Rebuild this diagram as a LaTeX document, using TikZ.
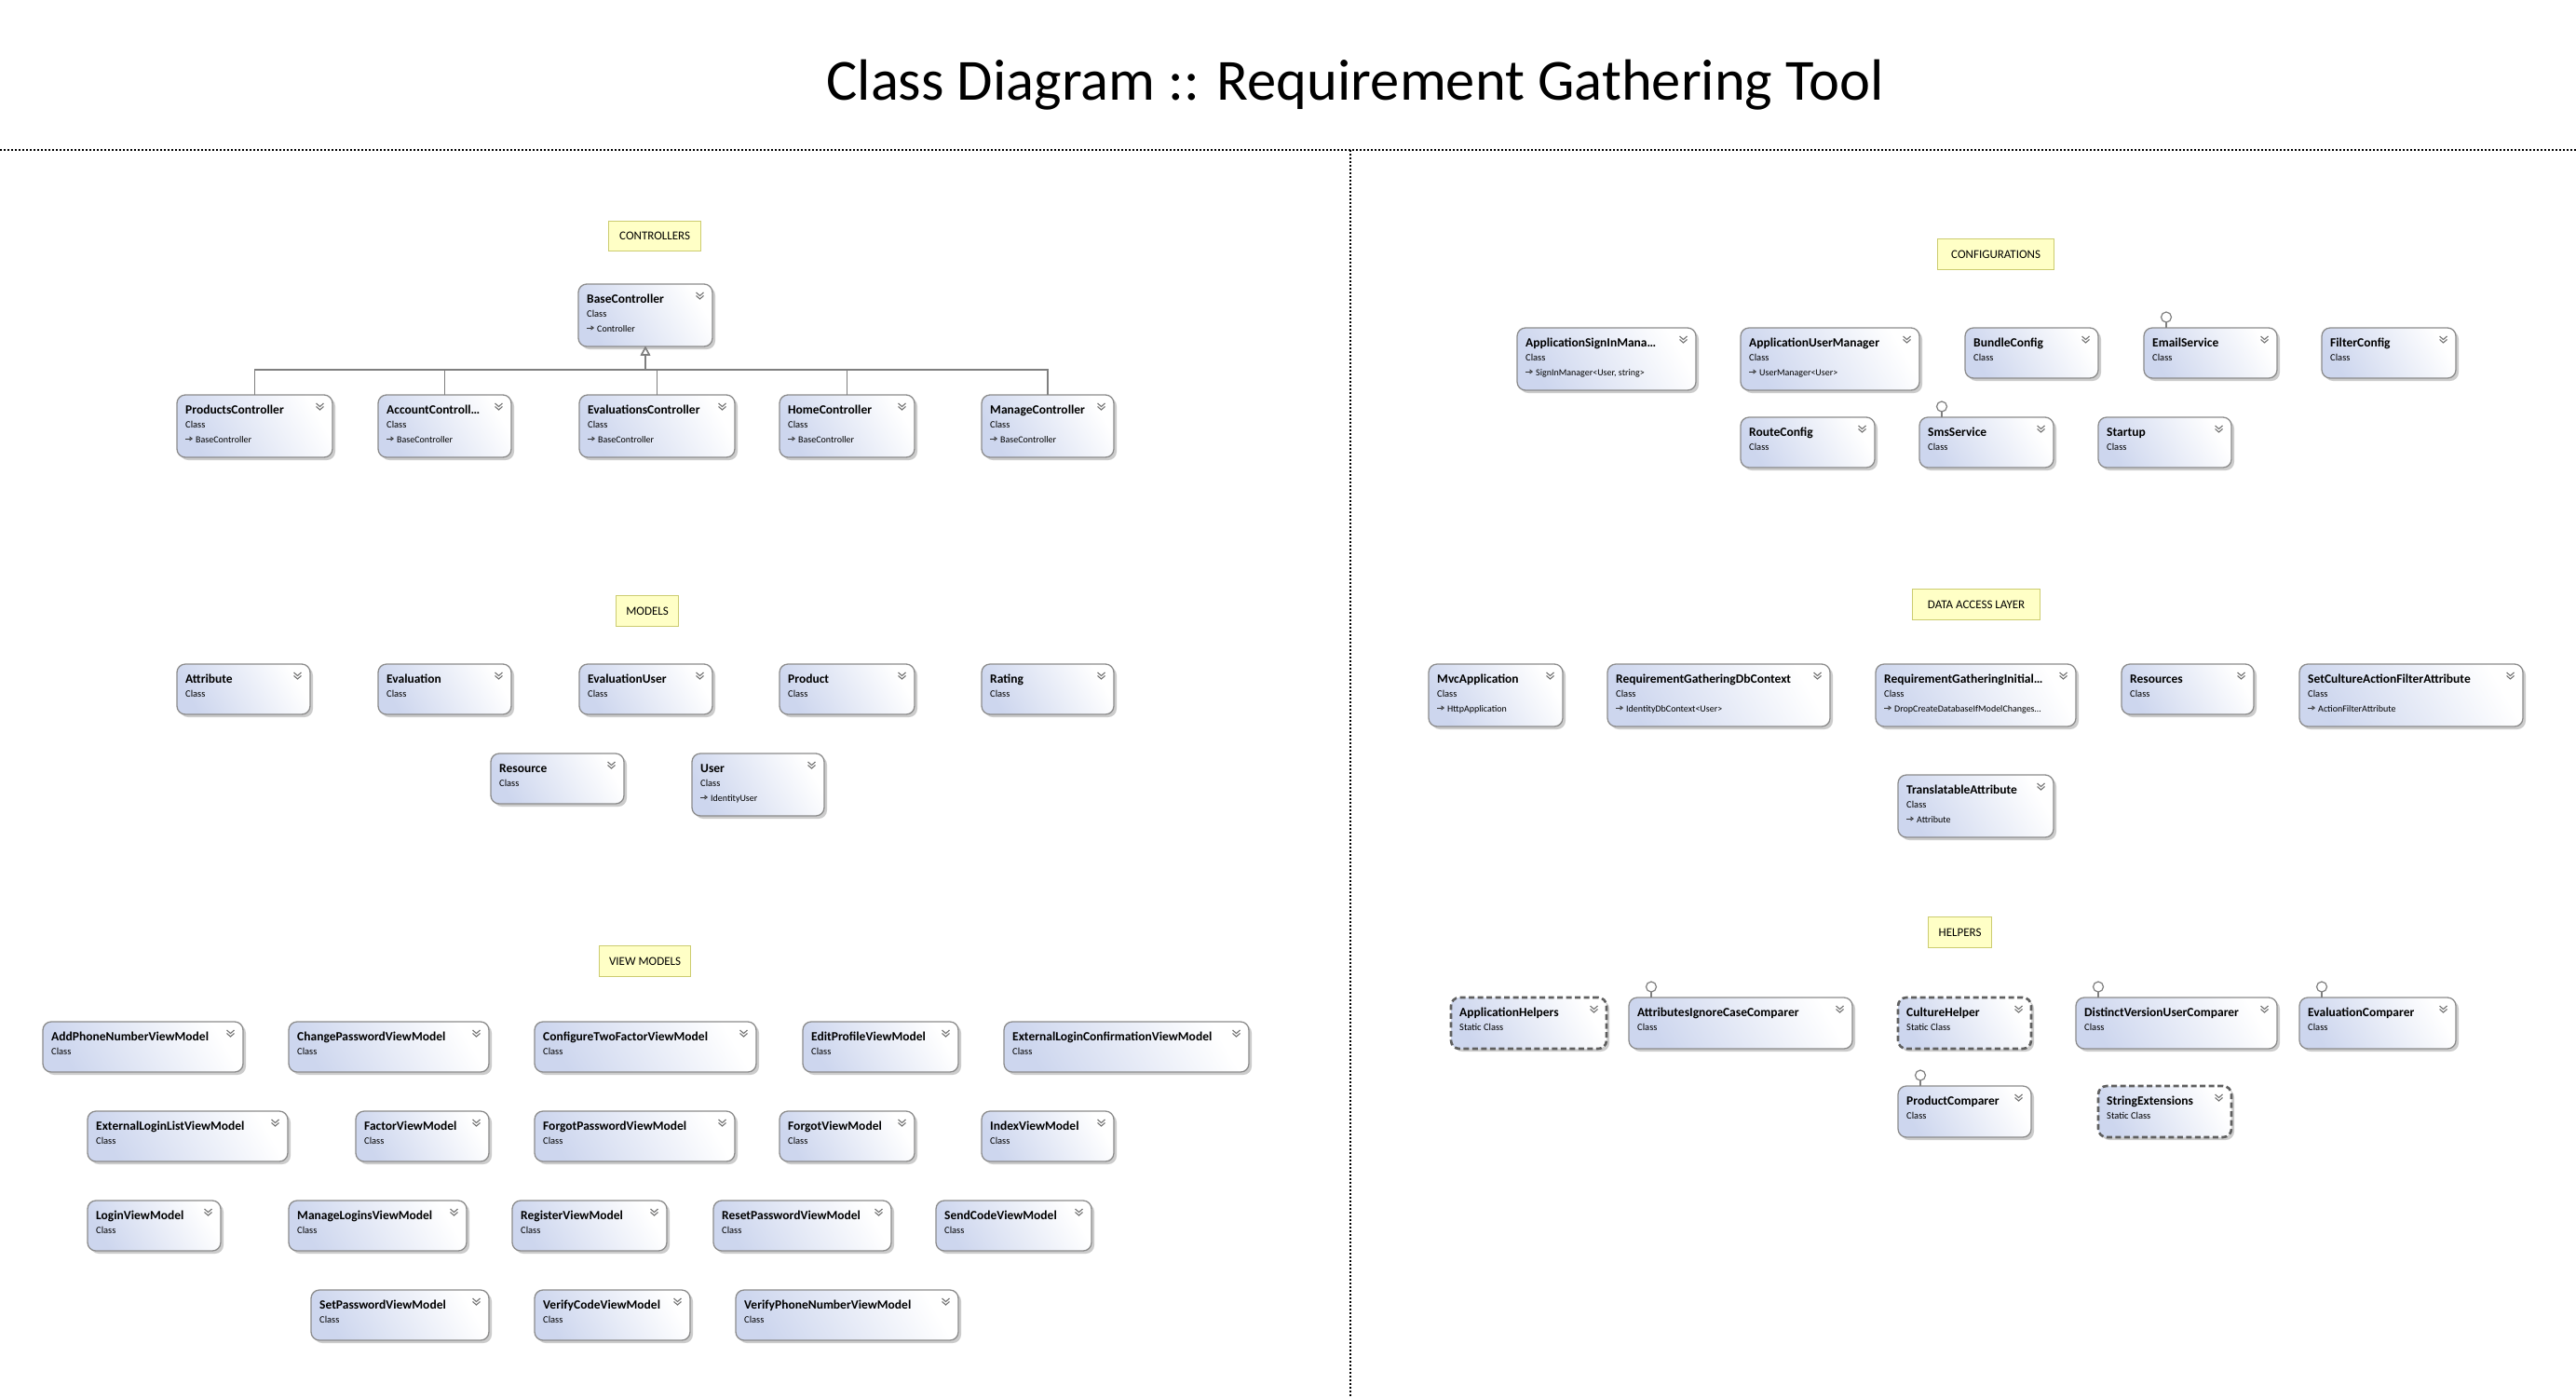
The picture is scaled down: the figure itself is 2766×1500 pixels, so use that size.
\documentclass[tikz,border=0pt]{standalone}
\usepackage{fontspec}
\setmainfont{Carlito}
\usetikzlibrary{arrows.meta,shadows,calc}
\definecolor{boxblue}{HTML}{CDD6EE}
\definecolor{boxline}{HTML}{8C8C8C}
\definecolor{notefill}{HTML}{FFFFC6}
\definecolor{noteline}{HTML}{CCCC70}
\definecolor{conn}{HTML}{7F7F7F}
\definecolor{dashline}{HTML}{5F5F5F}
\tikzset{
 cls/.style={draw=boxline, line width=1.3pt, rounded corners=9pt, left color=boxblue, right color=white, shading angle=120, general shadow={fill=black!20, shadow xshift=3pt, shadow yshift=-3pt}, inner sep=0pt, outer sep=0pt},
 stat/.style={cls, draw=dashline, line width=2.6pt, dash pattern=on 6pt off 3.5pt},
 ttl/.style={font=\bfseries\fontsize{13.5}{15}\selectfont, inner sep=0pt},
 sub/.style={font=\fontsize{10.5}{12}\selectfont, inner sep=0pt},
 notebx/.style={draw=noteline, fill=notefill, line width=1.2pt, font=\fontsize{13}{15}\selectfont, inner sep=0pt, anchor=north west},
 inh/.style={draw=conn, line width=1.4pt, -{Triangle[open, length=9.5pt, width=10pt, fill=white]}},
 chev/.style={draw=black!55, line width=1.1pt},
 barrow/.style={draw=black!80, line width=0.8pt, -{Triangle[open, length=3.5pt, width=5pt]}},
 lolli/.style={draw=conn, line width=1.2pt},
 sepline/.style={draw=black, line width=2pt, dash pattern=on 2pt off 2pt},
}
\newcommand\clsbox[9][cls]{%
 \node[#1, anchor=north west, minimum width={#5pt-#3pt}, minimum height={#6pt-#4pt}] (#2) at (#3,#4) {};
 \node[ttl, anchor=base west] at ([xshift=9pt, yshift=-20pt]#2.north west) {#7};
 \node[sub, anchor=base west] at ([xshift=9pt, yshift=-35pt]#2.north west) {#8};
 \draw[chev] ([xshift=-17.5pt, yshift=-9pt]#2.north east) -- ++(4pt,-3.5pt) -- ++(4pt,3.5pt);
 \draw[chev] ([xshift=-17.5pt, yshift=-12.5pt]#2.north east) -- ++(4pt,-3.5pt) -- ++(4pt,3.5pt);
 \def\basetext{#9}%
 \ifx\basetext\empty\else
 \draw[barrow] ([xshift=9pt, yshift=-47pt]#2.north west) -- ++(8pt,0);
 \node[sub, font=\fontsize{10}{12}\selectfont, anchor=base west] at ([xshift=20pt, yshift=-51pt]#2.north west) {#9};
 \fi
}
\newcommand\notebox[6]{%
 \node[notebx, minimum width={#4pt-#2pt}, minimum height={#5pt-#3pt}] (#1) at (#2,#3) {#6};
}
\newcommand\lollipop[1]{%
 \draw[lolli] ([xshift=24pt]#1.north west) -- ++(0,6pt);
 \draw[lolli, fill=white] ([xshift=24pt, yshift=11.5pt]#1.north west) circle (5.5pt);
}
\begin{document}
\begin{tikzpicture}[x=1pt,y=-1pt]
\fill[white] (0,0) rectangle (2766,1500);
\useasboundingbox (0,0) rectangle (2766,1500);

\node[font=\fontsize{62.5}{70}\selectfont, anchor=base, inner sep=0pt] (title) at (1455,107) {Class Diagram :: Requirement Gathering Tool};

\coordinate (hl) at (0,161);
\coordinate (hr) at (2766,161);
\coordinate (vt) at (1450,161);
\coordinate (vb) at (1450,1500);
\draw[sepline] (hl) -- (hr);
\draw[sepline] (vt) -- (vb);

% CONTROLLERS
\notebox{nctrl}{653}{237}{752}{269}{CONTROLLERS}
\clsbox{base}{621}{305}{765}{372}{BaseController}{Class}{Controller}
\clsbox{prodc}{190}{424}{357}{491}{ProductsController}{Class}{BaseController}
\clsbox{accc}{406}{424}{549}{491}{AccountControll…}{Class}{BaseController}
\clsbox{evalc}{622}{424}{789}{491}{EvaluationsController}{Class}{BaseController}
\clsbox{homec}{837}{424}{982}{491}{HomeController}{Class}{BaseController}
\clsbox{manc}{1054}{424}{1196}{491}{ManageController}{Class}{BaseController}
\foreach \c in {prodc,accc,evalc,homec,manc}
  \draw[inh] (\c.north) -- ++(0,27pt) -| (base.south);

% MODELS
\notebox{nmod}{661}{639}{728}{672}{MODELS}
\clsbox{attr}{190}{713}{333}{767}{Attribute}{Class}{}
\clsbox{evalm}{406}{713}{549}{767}{Evaluation}{Class}{}
\clsbox{evaluser}{622}{713}{765}{767}{EvaluationUser}{Class}{}
\clsbox{product}{837}{713}{982}{767}{Product}{Class}{}
\clsbox{rating}{1054}{713}{1196}{767}{Rating}{Class}{}
\clsbox{resource}{527}{809}{670}{863}{Resource}{Class}{}
\clsbox{user}{743}{809}{885}{876}{User}{Class}{IdentityUser}

% VIEW MODELS
\notebox{nvm}{643}{1015}{741}{1048}{VIEW MODELS}
\clsbox{vm1}{46}{1097}{261}{1151}{AddPhoneNumberViewModel}{Class}{}
\clsbox{vm2}{310}{1097}{525}{1151}{ChangePasswordViewModel}{Class}{}
\clsbox{vm3}{574}{1097}{812}{1151}{ConfigureTwoFactorViewModel}{Class}{}
\clsbox{vm4}{862}{1097}{1029}{1151}{EditProfileViewModel}{Class}{}
\clsbox{vm5}{1078}{1097}{1341}{1151}{ExternalLoginConfirmationViewModel}{Class}{}
\clsbox{vm6}{94}{1193}{309}{1247}{ExternalLoginListViewModel}{Class}{}
\clsbox{vm7}{382}{1193}{525}{1247}{FactorViewModel}{Class}{}
\clsbox{vm8}{574}{1193}{789}{1247}{ForgotPasswordViewModel}{Class}{}
\clsbox{vm9}{837}{1193}{982}{1247}{ForgotViewModel}{Class}{}
\clsbox{vm10}{1054}{1193}{1196}{1247}{IndexViewModel}{Class}{}
\clsbox{vm11}{94}{1289}{237}{1343}{LoginViewModel}{Class}{}
\clsbox{vm12}{310}{1289}{501}{1343}{ManageLoginsViewModel}{Class}{}
\clsbox{vm13}{550}{1289}{716}{1343}{RegisterViewModel}{Class}{}
\clsbox{vm14}{766}{1289}{957}{1343}{ResetPasswordViewModel}{Class}{}
\clsbox{vm15}{1005}{1289}{1172}{1343}{SendCodeViewModel}{Class}{}
\clsbox{vm16}{334}{1385}{525}{1439}{SetPasswordViewModel}{Class}{}
\clsbox{vm17}{574}{1385}{741}{1439}{VerifyCodeViewModel}{Class}{}
\clsbox{vm18}{790}{1385}{1029}{1439}{VerifyPhoneNumberViewModel}{Class}{}

% CONFIGURATIONS
\notebox{ncfg}{2080}{256}{2205}{289}{CONFIGURATIONS}
\clsbox{signin}{1629}{352}{1821}{419}{ApplicationSignInMana…}{Class}{SignInManager<User, string>}
\clsbox{usermgr}{1869}{352}{2061}{419}{ApplicationUserManager}{Class}{UserManager<User>}
\clsbox{bundle}{2110}{352}{2253}{406}{BundleConfig}{Class}{}
\clsbox{email}{2302}{352}{2445}{406}{EmailService}{Class}{}
\clsbox{filter}{2493}{352}{2637}{406}{FilterConfig}{Class}{}
\clsbox{route}{1869}{448}{2013}{502}{RouteConfig}{Class}{}
\clsbox{sms}{2061}{448}{2205}{502}{SmsService}{Class}{}
\clsbox{startup}{2253}{448}{2396}{502}{Startup}{Class}{}
\lollipop{email}
\lollipop{sms}

% DATA ACCESS LAYER
\notebox{ndal}{2053}{632}{2190}{665}{DATA ACCESS LAYER}
\clsbox{mvc}{1534}{713}{1678}{780}{MvcApplication}{Class}{HttpApplication}
\clsbox{dbctx}{1726}{713}{1965}{780}{RequirementGatheringDbContext}{Class}{IdentityDbContext<User>}
\clsbox{init}{2014}{713}{2229}{780}{RequirementGatheringInitial…}{Class}{DropCreateDatabaseIfModelChanges…}
\clsbox{resources}{2278}{713}{2420}{767}{Resources}{Class}{}
\clsbox{setcult}{2469}{713}{2709}{780}{SetCultureActionFilterAttribute}{Class}{ActionFilterAttribute}
\clsbox{transl}{2038}{832}{2205}{899}{TranslatableAttribute}{Class}{Attribute}

% HELPERS
\notebox{nhelp}{2070}{984}{2138}{1017}{HELPERS}
\clsbox[stat]{apphelp}{1558}{1071}{1725}{1126}{ApplicationHelpers}{Static Class}{}
\clsbox{attrcmp}{1749}{1071}{1989}{1126}{AttributesIgnoreCaseComparer}{Class}{}
\clsbox[stat]{culture}{2038}{1071}{2181}{1126}{CultureHelper}{Static Class}{}
\clsbox{distinct}{2229}{1071}{2445}{1126}{DistinctVersionUserComparer}{Class}{}
\clsbox{evalcmp}{2469}{1071}{2637}{1126}{EvaluationComparer}{Class}{}
\clsbox{prodcmp}{2038}{1166}{2181}{1221}{ProductComparer}{Class}{}
\clsbox[stat]{strext}{2253}{1166}{2396}{1221}{StringExtensions}{Static Class}{}
\lollipop{attrcmp}
\lollipop{distinct}
\lollipop{evalcmp}
\lollipop{prodcmp}
\end{tikzpicture}
\end{document}
